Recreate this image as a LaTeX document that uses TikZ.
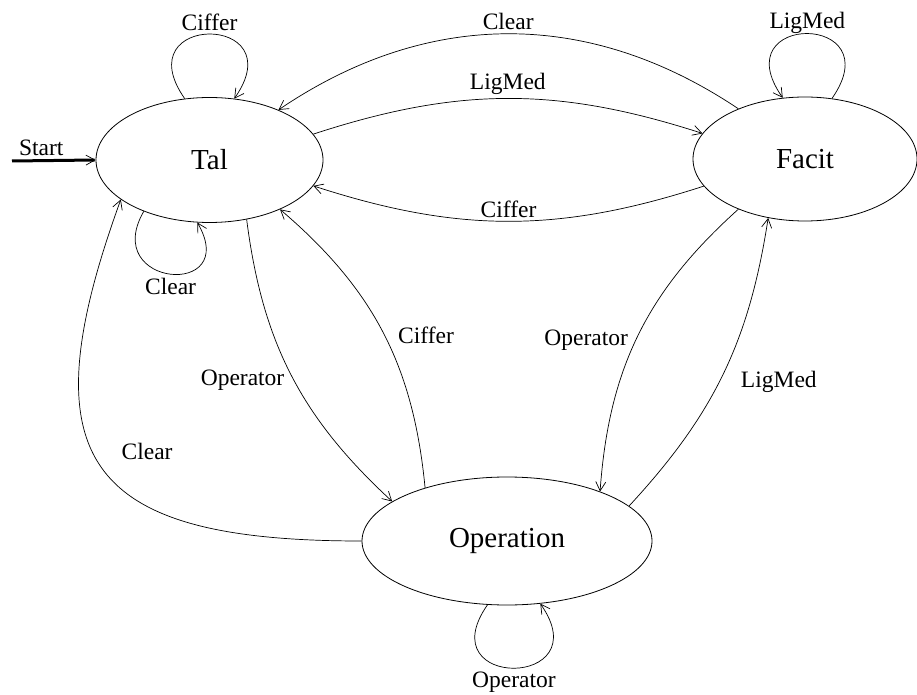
\documentclass[tikz,border=0pt]{standalone}
\usepackage{fontspec}
\setmainfont{Liberation Serif}
\usetikzlibrary{positioning,arrows.meta,shapes.geometric}

\begin{document}
\begin{tikzpicture}[
    x=1pt, y=1pt,
    state/.style={draw, ellipse, line width=0.8pt, inner sep=0pt,
                  font=\fontsize{29}{32}\selectfont},
    arr/.style={-{Straight Barb[length=9pt,width=10pt,line width=0.7pt]},
                line width=0.7pt},
    lbl/.style={font=\fontsize{23.5}{26}\selectfont},
]
  \useasboundingbox (0,0) rectangle (917,694);

  \node[state, minimum width=227pt, minimum height=125pt] (tal) at (209.5,534) {Tal};
  \node[state, minimum width=224pt, minimum height=124pt] (facit) at (805,535) {Facit};
  \node[state, minimum width=290pt, minimum height=128pt] (oper) at (507,153) {Operation};
  \coordinate (start) at (12,533);

  \draw[arr, line width=3pt] (start) -- node[lbl, pos=0.35, above] {Start} (tal.west);

  % between Tal and Facit
  \draw[arr] (facit.143) to[bend right=34] node[lbl, above] {Clear} (tal.36);
  \draw[arr] (tal.14) to[bend left=18] node[lbl, above] {LigMed} (facit.166);
  \draw[arr] (facit.195) to[bend left=18] node[lbl, above] {Ciffer} (tal.-14);

  % to and from Operation
  \draw[arr] (tal.-58) to[bend right=20] node[lbl, pos=.52, left=6pt] {Operator} (oper.161);
  \draw[arr] (oper.147) to[bend right=22] node[lbl, pos=.49, right=10pt] {Ciffer} (tal.-35);
  \draw[arr] (oper.180) to[out=180, in=-110, looseness=1.7]
    node[lbl, pos=.55, right=26pt] {Clear} (tal.204);
  \draw[arr] (facit.217) to[bend right=22] node[lbl, pos=.52, left=4pt] {Operator} (oper.28);
  \draw[arr] (oper.16) to[bend right=17] node[lbl, pos=.47, right=18pt] {LigMed} (facit.238);

  % loops
  \draw[arr] (tal.112) .. controls +(125:105) and +(55:105) ..
    node[lbl, above] {Ciffer} (tal.68);
  \draw[arr] (tal.218) .. controls +(240:88) and +(300:88) ..
    node[lbl, below] {Clear} (tal.259);
  \draw[arr] (facit.66.5) .. controls +(55:105) and +(125:105) ..
    node[lbl, above, yshift=-4pt] {LigMed} (facit.110);
  \draw[arr] (oper.253) .. controls +(235:104) and +(305:104) ..
    node[lbl, below] {Operator} (oper.298);
\end{tikzpicture}
\end{document}
